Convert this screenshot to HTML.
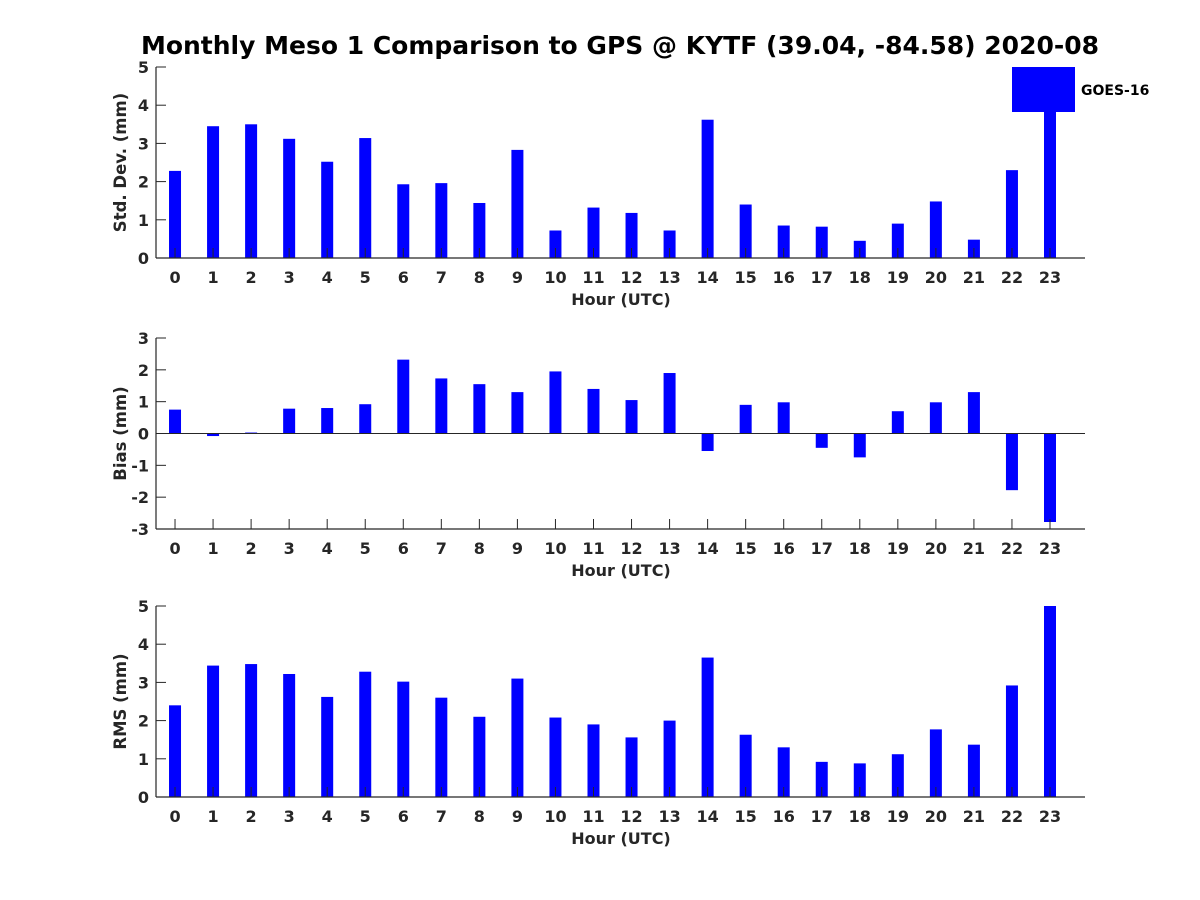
<!DOCTYPE html>
<html><head><meta charset="utf-8"><style>
body{margin:0;background:#fff;}
svg{display:block;font-family:"DejaVu Sans","Liberation Sans",sans-serif;font-weight:bold;}
</style></head><body>
<svg id="chart" width="1200" height="900" xmlns="http://www.w3.org/2000/svg">
<rect width="1200" height="900" fill="#fff"/>
<text x="620" y="54" text-anchor="middle" font-size="25" fill="#000">Monthly Meso 1 Comparison to GPS @ KYTF (39.04, -84.58) 2020-08</text>
</svg>
<script>
const hours = [0,1,2,3,4,5,6,7,8,9,10,11,12,13,14,15,16,17,18,19,20,21,22,23];
const stdValues = [2.28,3.45,3.5,3.12,2.52,3.14,1.93,1.96,1.44,2.83,0.72,1.32,1.18,0.72,3.62,1.4,0.85,0.82,0.45,0.9,1.48,0.48,2.3,4.98];
const biasValues = [0.75,-0.08,0.03,0.78,0.8,0.92,2.32,1.73,1.55,1.3,1.95,1.4,1.05,1.9,-0.55,0.9,0.98,-0.45,-0.75,0.7,0.98,1.3,-1.78,-2.78];
const rmsValues = [2.4,3.44,3.48,3.22,2.62,3.28,3.02,2.6,2.1,3.1,2.08,1.9,1.56,2.0,3.65,1.63,1.3,0.92,0.88,1.12,1.77,1.37,2.92,5.0];
const stdTicks = [0,1,2,3,4,5];
const biasTicks = [-3,-2,-1,0,1,2,3];
const rmsTicks = [0,1,2,3,4,5];

const NS = "http://www.w3.org/2000/svg";
const svg = document.getElementById('chart');
function mk(tag, attrs, parent){const e=document.createElementNS(NS,tag);for(const k in attrs)e.setAttribute(k,attrs[k]);(parent||svg).appendChild(e);return e;}

const L=156, R=1085;
const xMin=-0.5, xMax=23.92;
function xs(v){return L+(v-xMin)/(xMax-xMin)*(R-L);}

function panel(name, top, bottom, yMin, yMax, ticks, vals, ylabel){
  const g=mk('g',{});
  
  
  const ys=v=>bottom-(v-yMin)/(yMax-yMin)*(bottom-top);
  vals.forEach((v,i)=>{
    const y0=ys(0), y1=ys(v);
    const b=mk('rect',{x:xs(hours[i])-6,y:Math.min(y0,y1),width:12,height:Math.max(Math.abs(y1-y0),0.8),fill:'#0000ff'},g);
    
    
  });
  mk('line',{x1:L,y1:top,x2:L,y2:bottom,stroke:'#262626','stroke-width':1.2},g);
  mk('line',{x1:L,y1:bottom,x2:R,y2:bottom,stroke:'#262626','stroke-width':1.2},g);
  if(yMin<0) mk('line',{x1:L,y1:ys(0),x2:R,y2:ys(0),stroke:'#262626','stroke-width':1},g);
  ticks.forEach(t=>{
    const y=ys(t);
    mk('line',{x1:L,y1:y,x2:L+10,y2:y,stroke:'#262626','stroke-width':1},g);
    const tx=mk('text',{x:L-7,y:y+6,'text-anchor':'end','font-size':16,fill:'#262626'},g);
    tx.textContent=t;
    
    
  });
  hours.forEach(h=>{
    const x=xs(h);
    mk('line',{x1:x,y1:bottom,x2:x,y2:bottom-10,stroke:'#262626','stroke-width':1},g);
    const tx=mk('text',{x:x,y:bottom+25,'text-anchor':'middle','font-size':16,fill:'#262626'},g);
    tx.textContent=h;
    
    
  });
  const xl=mk('text',{x:621,y:bottom+47,'text-anchor':'middle','font-size':16,fill:'#262626'},g);
  xl.textContent='Hour (UTC)';
  
  
  const cy=(top+bottom)/2;
  const yl=mk('text',{x:126,y:cy,'text-anchor':'middle','font-size':16.5,fill:'#262626',transform:'rotate(-90 126 '+cy+')'},g);
  yl.textContent=ylabel;
  
  
}
panel('std-dev',67,258,0,5,stdTicks,stdValues,'Std. Dev. (mm)');
panel('bias',338,529,-3,3,biasTicks,biasValues,'Bias (mm)');
panel('rms',606,797,0,5,rmsTicks,rmsValues,'RMS (mm)');

const lg=mk('g',{});


mk('rect',{x:1012,y:67,width:63,height:45,fill:'#0000ff'},lg);
const lt=mk('text',{x:1081,y:95,'font-size':14,fill:'#000'},lg);
lt.textContent='GOES-16';


</script>
</body></html>
